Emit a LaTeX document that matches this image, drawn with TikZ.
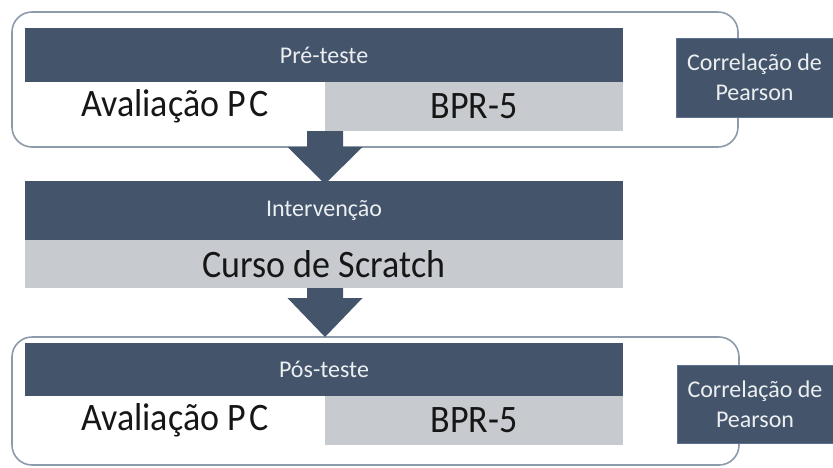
\documentclass[tikz,border=0pt]{standalone}
\usepackage{fontspec}
\usepackage{graphicx}
\setmainfont{Carlito}
\usetikzlibrary{calc}
\definecolor{navy}{HTML}{44546A}
\definecolor{lgray}{HTML}{C7CACE}
\definecolor{rimgray}{HTML}{8D9AAA}
\definecolor{labelwhite}{HTML}{ECEFF2}
\definecolor{ink}{HTML}{161616}
\definecolor{corredge}{HTML}{5A7190}
\newcommand{\tallt}[1]{\scalebox{1}[1.08]{#1}}
\begin{document}
\begin{tikzpicture}[x=1pt,y=-1pt,
  box/.style={inner sep=0pt, outer sep=0pt, anchor=north west},
  darkbar/.style={box, fill=navy, text=labelwhite, font=\fontsize{24}{30}\selectfont},
  graybar/.style={box, fill=lgray, text=ink, font=\fontsize{36}{40}\selectfont},
  whitebar/.style={box, fill=white, text=ink, font=\fontsize{36}{40}\selectfont},
  groupbox/.style={box, draw=rimgray, line width=1.6pt, rounded corners=20pt, fill=white},
  corrbox/.style={box, fill=navy, draw=corredge, line width=0.8pt, align=center, text=labelwhite, font=\fontsize{24}{30}\selectfont},
  arrowfill/.style={fill=navy}]
\useasboundingbox (0,0) rectangle (833,467);
% ---------- Pre-test group ----------
\node[groupbox, minimum width=726, minimum height=135] (pregroup) at (12,12) {};
\node[darkbar, minimum width=598, minimum height=54] (pre) at (25,28) {Pré-teste};
\node[whitebar, minimum width=300, minimum height=49] (prepc) at (25,82) {\tallt{Avaliação P\kern0.1em C}};
\node[graybar, minimum width=298, minimum height=49] (prebpr) at (325,82) {\tallt{BPR-5}};
\node[corrbox, minimum width=157, minimum height=79] (precorr) at (676,38) {Correlação de\\Pearson};
% ---------- Intervention ----------
\node[darkbar, minimum width=598, minimum height=59] (int) at (25,181) {Intervenção};
\node[graybar, minimum width=598, minimum height=48] (curso) at (25,240) {\tallt{Curso de Scratch}};
% ---------- Post-test group ----------
\node[groupbox, minimum width=727, minimum height=128] (posgroup) at (12,337) {};
\node[darkbar, minimum width=598, minimum height=53] (pos) at (25,343) {Pós-teste};
\node[whitebar, minimum width=300, minimum height=49] (pospc) at (25,396) {\tallt{Avaliação P\kern0.1em C}};
\node[graybar, minimum width=298, minimum height=49] (posbpr) at (325,396) {\tallt{BPR-5}};
\node[corrbox, minimum width=156, minimum height=78] (poscorr) at (677,365) {Correlação de\\Pearson};
% ---------- Block arrows ----------
\coordinate (a1) at (prebpr.south west);
\coordinate (t1) at ($(a1 |- int.north)+(0,3)$);
\fill[arrowfill] ($(a1)+(-18,0)$) -- ($(a1)+(18,0)$) -- ($(t1)+(18,-37)$) -- ($(t1)+(37.5,-37)$)
  -- (t1) -- ($(t1)+(-37.5,-37)$) -- ($(t1)+(-18,-37)$) -- cycle;
\coordinate (a2) at ($(curso.south)+(1,0)$);
\coordinate (t2) at (a2 |- posgroup.north);
\fill[arrowfill] ($(a2)+(-18,0)$) -- ($(a2)+(18,0)$) -- ($(t2)+(18,-39)$) -- ($(t2)+(37.5,-39)$)
  -- (t2) -- ($(t2)+(-37.5,-39)$) -- ($(t2)+(-18,-39)$) -- cycle;
\end{tikzpicture}
\end{document}
